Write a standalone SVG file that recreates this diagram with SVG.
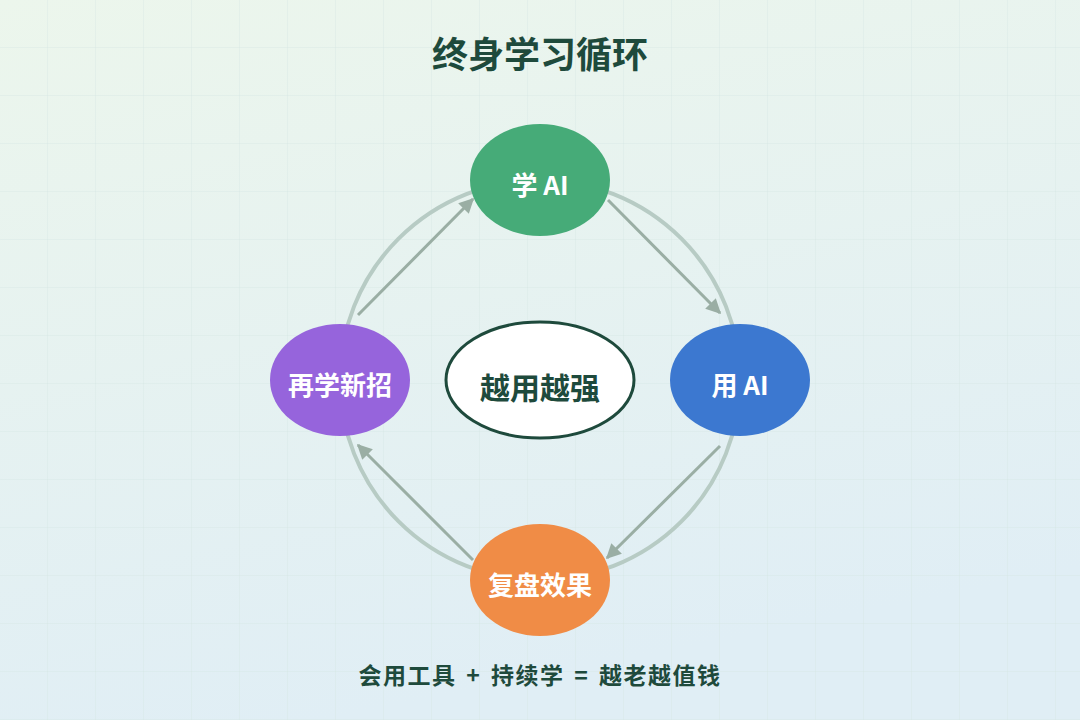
<svg xmlns="http://www.w3.org/2000/svg" width="1080" height="720" viewBox="0 0 1080 720">
<defs>
<linearGradient id="bg" x1="0" y1="0" x2="0.3" y2="1"><stop offset="0" stop-color="#ecf6ec"/><stop offset="1" stop-color="#e0eef5"/></linearGradient>
<pattern id="grid" width="48" height="48" patternUnits="userSpaceOnUse"><path d="M48 0V48M0 48H48" fill="none" stroke="#d4e6e2" stroke-width="1" opacity="0.7"/></pattern>
<marker id="ah" viewBox="0 0 10 10" refX="9" refY="5" markerWidth="5" markerHeight="5" orient="auto"><path d="M0 0L10 5L0 10z" fill="#9aaea4"/></marker>
</defs>
<style>
.lbl{font-family:"Noto Sans CJK SC","Liberation Sans",sans-serif;font-weight:700;fill:#fff;font-size:26px;text-anchor:middle}
.arr{stroke:#9aaea4;stroke-width:3;fill:none;marker-end:url(#ah)}
</style>
<rect width="1080" height="720" fill="url(#bg)"/>
<rect width="1080" height="720" fill="url(#grid)"/>
<text x="540" y="68" text-anchor="middle" font-family="Noto Sans CJK SC,sans-serif" font-weight="700" font-size="36" fill="#1e4a3c">终身学习循环</text>
<g id="connectors">
<circle cx="540" cy="380" r="200" fill="none" stroke="#b7cbc4" stroke-width="4"/>
<line class="arr" x1="358" y1="315" x2="473" y2="199"/>
<line class="arr" x1="608" y1="200" x2="720" y2="313"/>
<line class="arr" x1="720" y1="446" x2="607" y2="558"/>
<line class="arr" x1="473" y1="560" x2="358" y2="445"/>
</g>
<g id="center"><ellipse cx="540" cy="380" rx="94" ry="58" fill="#fff" stroke="#1e4a3c" stroke-width="3"/><text x="540" y="399" text-anchor="middle" font-family="Noto Sans CJK SC,sans-serif" font-weight="700" font-size="30" fill="#1e4a3c">越用越强</text></g>
<g id="learn"><ellipse cx="540" cy="180" rx="70" ry="56" fill="#46ab78"/><text class="lbl" x="540" y="195">学 AI</text></g>
<g id="use"><ellipse cx="740" cy="380" rx="70" ry="56" fill="#3c78d0"/><text class="lbl" x="740" y="395">用 AI</text></g>
<g id="review"><ellipse cx="540" cy="580" rx="70" ry="56" fill="#f08c46"/><text class="lbl" x="540" y="595">复盘效果</text></g>
<g id="relearn"><ellipse cx="340" cy="380" rx="70" ry="56" fill="#9664dc"/><text class="lbl" x="340" y="395">再学新招</text></g>
<text x="540" y="684" text-anchor="middle" font-family="Noto Sans CJK SC,sans-serif" font-weight="700" font-size="23" letter-spacing="1.5" word-spacing="3" fill="#1e4a3c">会用工具 + 持续学 = 越老越值钱</text>
</svg>
